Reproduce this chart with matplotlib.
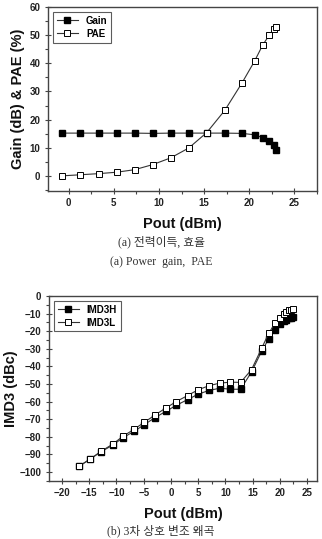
import numpy as np
import matplotlib.pyplot as plt
from matplotlib.ticker import MultipleLocator

plt.rcParams['font.family'] = ['Liberation Sans', 'DejaVu Sans']
plt.rcParams['font.weight'] = 'bold'

# (a) power gain / PAE
pout_a = [-0.8, 1.3, 3.3, 5.3, 7.3, 9.3, 11.3, 13.3, 15.3, 17.3, 19.2, 20.6, 21.5, 22.2, 22.7, 23.0]
gain = [15.2, 15.2, 15.2, 15.2, 15.2, 15.1, 15.2, 15.2, 15.2, 15.2, 15.1, 14.6, 13.6, 12.3, 10.8, 9.1]
pae = [0.0, 0.4, 0.8, 1.3, 2.2, 4.0, 6.4, 9.9, 15.4, 23.3, 33.0, 40.8, 46.5, 49.9, 52.2, 53.0]

# (b) IMD3
pout_b = [-16.8, -14.8, -12.8, -10.7, -8.85, -6.8, -4.9, -2.9, -0.9, 1.0, 3.05, 5.0, 7.0, 9.0,
          10.9, 12.8, 14.8, 16.7, 18.0, 19.2, 20.0, 20.7, 21.2, 21.6, 22.0, 22.5]
imd3h = [-96.6, -92.6, -88.4, -84.8, -80.6, -77.0, -73.1, -69.1, -65.5, -62.1, -58.9, -55.8, -53.7,
         -52.4, -53.0, -53.0, -43.2, -31.2, -24.2, -19.2, -16.2, -14.5, -13.5, -12.8, -12.4, -12.0]
imd3l = [-96.6, -92.6, -88.2, -84.2, -79.8, -75.8, -71.8, -67.6, -63.6, -60.0, -56.6, -53.3, -51.0,
         -49.5, -49.0, -49.1, -41.9, -29.5, -21.0, -15.2, -12.4, -10.1, -9.0, -8.2, -7.8, -7.4]

fig = plt.figure(figsize=(3.22, 5.39), dpi=100)
sp_col = '#444444'

def style(ax):
    for s in ax.spines.values():
        s.set_color(sp_col)
        s.set_linewidth(1.0)
    ax.tick_params(which='both', labelsize=7, width=0.8, color=sp_col, labelcolor='#222222')
    ax.tick_params(which='major', direction='inout', length=4)
    ax.tick_params(which='minor', direction='out', length=2)
    for t in ax.get_xticklabels() + ax.get_yticklabels():
        t.set_fontweight('bold')

ax1 = fig.add_axes([0.149, 0.646, 0.835, 0.341])
ax1.plot(pout_a, gain, '-', color='#333333', lw=0.8, marker='s', ms=4.5,
         mfc='black', mec='black', label='Gain')
ax1.plot(pout_a, pae, '-', color='#333333', lw=0.8, marker='s', ms=4.5,
         mfc='white', mec='black', mew=0.7, label='PAE')
ax1.set_xlim(-2.3, 27.5)
ax1.set_ylim(-5.3, 60)
ax1.xaxis.set_major_locator(MultipleLocator(5))
ax1.xaxis.set_minor_locator(MultipleLocator(2.5))
ax1.yaxis.set_major_locator(MultipleLocator(10))
ax1.yaxis.set_minor_locator(MultipleLocator(5))
style(ax1)
ax1.set_xlabel('Pout (dBm)', fontsize=10.5, fontweight='bold', labelpad=6, color='#111111')
ax1.set_ylabel('Gain (dB) & PAE (%)', fontsize=10.5, fontweight='bold', labelpad=3, color='#111111')
leg = ax1.legend(loc='upper left', fontsize=7, frameon=True, fancybox=False,
                 borderaxespad=0.5, handlelength=2.2, borderpad=0.4, labelspacing=0.3)
leg.get_frame().set_edgecolor('#333333')
leg.get_frame().set_linewidth(0.8)

fig.text(0.5, 1 - 242 / 539, '(a) 전력이득, 효율', ha='center', va='center', fontsize=8.5,
         family=['Liberation Serif', 'Noto Sans CJK KR'], fontweight='normal', color='#333333')
fig.text(0.5, 1 - 262 / 539, '(a) Power  gain,  PAE', ha='center', va='center', fontsize=8.5,
         family=['Liberation Serif'], fontweight='normal', color='#333333')

ax2 = fig.add_axes([0.152, 0.108, 0.832, 0.343])
ax2.plot(pout_b, imd3h, '-', color='#333333', lw=0.8, marker='s', ms=4.5,
         mfc='black', mec='black', label='IMD3H')
ax2.plot(pout_b, imd3l, '-', color='#333333', lw=0.8, marker='s', ms=4.5,
         mfc='white', mec='black', mew=0.7, label='IMD3L')
ax2.set_xlim(-22.4, 26.8)
ax2.set_ylim(-105, 0)
ax2.xaxis.set_major_locator(MultipleLocator(5))
ax2.xaxis.set_minor_locator(MultipleLocator(2.5))
ax2.yaxis.set_major_locator(MultipleLocator(10))
ax2.yaxis.set_minor_locator(MultipleLocator(5))
style(ax2)
ax2.set_xlabel('Pout (dBm)', fontsize=10.5, fontweight='bold', labelpad=6, color='#111111')
ax2.set_ylabel('IMD3 (dBc)', fontsize=10.5, fontweight='bold', labelpad=1, color='#111111')
leg2 = ax2.legend(loc='upper left', fontsize=7, frameon=True, fancybox=False,
                  borderaxespad=0.5, handlelength=2.2, borderpad=0.4, labelspacing=0.3)
leg2.get_frame().set_edgecolor('#333333')
leg2.get_frame().set_linewidth(0.8)

fig.text(0.5, 1 - 531 / 539, '(b) 3차 상호 변조 왜곡', ha='center', va='center', fontsize=8.5,
         family=['Liberation Serif', 'Noto Sans CJK KR'], fontweight='normal', color='#333333')

fig.savefig('out.png', dpi=100)
